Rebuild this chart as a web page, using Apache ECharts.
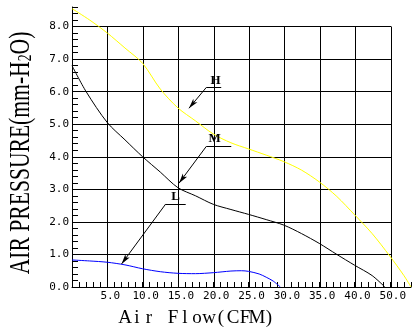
<!DOCTYPE html>
<html>
<head>
<meta charset="utf-8">
<script src="https://cdn.jsdelivr.net/npm/echarts/dist/echarts.min.js"></script>
<style>
  html, body { margin: 0; padding: 0; background: #fff; }
  #chart { width: 414px; height: 332px; }
</style>
</head>
<body>
<div id="chart"></div>
<script>
// Fan performance curves: static pressure vs. air flow at three speeds.
const flowH = [0, 2.5, 5, 7.5, 10, 12.5, 15, 17.5, 20, 22.5, 25, 27.5, 30, 32.5, 35, 37.5, 40, 42.5, 45, 47, 48];
const pressureH = [8.55, 8.2, 7.8, 7.34, 6.87, 6.08, 5.5, 5.1, 4.7, 4.43, 4.24, 4.05, 3.85, 3.59, 3.23, 2.78, 2.22, 1.64, 0.95, 0.35, 0];

const flowM = [0, 2, 5, 7.5, 10, 12.5, 15, 17.5, 20, 22.5, 25, 27.5, 30, 32.5, 35, 37.5, 40, 42.5, 44.3];
const pressureM = [6.8, 6.0, 5.05, 4.52, 4.0, 3.53, 3.05, 2.8, 2.54, 2.38, 2.23, 2.07, 1.9, 1.64, 1.34, 1.0, 0.67, 0.35, 0];

const flowL = [0, 2.5, 5, 7.5, 10, 12.5, 15, 17.5, 20, 22.5, 24, 25, 26.5, 27.5, 28.5, 29.5];
const pressureL = [0.83, 0.8, 0.76, 0.68, 0.56, 0.47, 0.42, 0.41, 0.44, 0.49, 0.5, 0.48, 0.4, 0.3, 0.18, 0];

const xTickValues = [5, 10, 15, 20, 25, 30, 35, 40, 45];
const xTickLabels = ['5.0', '10.0', '15.0', '20.0', '25.0', '30.0', '35.0', '40.0', '50.0'];
const yTickLabels = ['0.0', '1.0', '2.0', '3.0', '4.0', '5.0', '6.0', '7.0', '8.0'];

const curveNames = ['H', 'M', 'L'];
const curveColors = ['#ffff00', '#000000', '#0000ff'];

const xTitle = 'Air Flow(CFM)';

// Callouts in data coordinates: arrow tip, elbow, underline end, letter
const callouts = {
  H: { tip: [16.56, 5.49], elbow: [19.02, 6.13], end: [21.13, 6.13], text: [20.33, 6.33] },
  M: { tip: [15.15, 3.19], elbow: [19.02, 4.32], end: [22.55, 4.32], text: [20.19, 4.55] },
  L: { tip: [7.02, 0.71], elbow: [13.27, 2.55], end: [16.1, 2.55], text: [14.68, 2.77] }
};

function pairs(xs, ys) { return xs.map((x, i) => [x, ys[i]]); }
const curveData = [pairs(flowH, pressureH), pairs(flowM, pressureM), pairs(flowL, pressureL)];

const monoFont = 'DejaVu Sans Mono';

// Fixed-pitch serif lettering: each glyph gets its own equal-width cell
const xTitleRich = xTitle.split('').map(ch => '{c|' + ch + '}').join('');

const series = curveNames.map((name, i) => {
  const c = callouts[name];
  return {
    name: name,
    type: 'line',
    xAxisIndex: 0,
    yAxisIndex: 0,
    data: curveData[i],
    showSymbol: false,
    smooth: 0.3,
    lineStyle: { color: curveColors[i], width: 1 },
    z: 3,
    markLine: {
      silent: true,
      animation: false,
      label: { show: false },
      lineStyle: { color: '#000', width: 1, type: 'solid' },
      data: [
        [ { coord: c.elbow, symbol: 'none' }, { coord: c.tip, symbol: 'arrow', symbolSize: [4, 10] } ],
        [ { coord: c.elbow, symbol: 'none' }, { coord: c.end, symbol: 'none' } ]
      ]
    },
    markPoint: {
      silent: true,
      animation: false,
      symbol: 'rect',
      symbolSize: 1,
      itemStyle: { color: 'rgba(0,0,0,0)' },
      label: {
        show: true,
        position: 'inside',
        color: '#000',
        fontFamily: 'Liberation Serif',
        fontWeight: 'bold',
        fontSize: 13,
        formatter: name
      },
      data: [ { coord: c.text, value: name } ]
    }
  };
});

const chart = echarts.init(document.getElementById('chart'));
chart.setOption({
  animation: false,
  backgroundColor: '#fff',
  grid: [
    { left: 72, right: 2, top: 7, bottom: 45 },
    { left: 72, right: 23, top: 26.5, bottom: 45 }
  ],
  xAxis: [
    {
      type: 'value', gridIndex: 0, min: 0, max: 48, interval: 1,
      axisLine: { show: true, lineStyle: { color: '#000', width: 1 } },
      axisTick: { show: true, inside: true, length: 5, lineStyle: { color: '#000', width: 1 } },
      splitLine: { show: false },
      axisLabel: {
        show: true, margin: 4, color: '#000', fontFamily: monoFont, fontSize: 11,
        padding: [0, 0, 0, 6],
        formatter: function (v) {
          const i = xTickValues.indexOf(Math.round(v));
          return (i >= 0 && Math.abs(v - Math.round(v)) < 1e-6) ? xTickLabels[i] : '';
        }
      }
    },
    {
      type: 'value', gridIndex: 1, min: 0, max: 45, interval: 5,
      axisLine: { show: false }, axisTick: { show: false }, axisLabel: { show: false },
      splitLine: { show: true, showMinLine: true, showMaxLine: true, lineStyle: { color: '#000', width: 1 } }
    }
  ],
  yAxis: [
    {
      type: 'value', gridIndex: 0, min: 0, max: 8.6, interval: 0.2,
      axisLine: { show: true, lineStyle: { color: '#000', width: 1 } },
      axisTick: { show: true, inside: true, length: 6, lineStyle: { color: '#000', width: 1 } },
      splitLine: { show: false },
      axisLabel: {
        show: true, margin: 3, color: '#000', fontFamily: monoFont, fontSize: 11,
        padding: [0, 0, 4, 0],
        formatter: function (v) {
          const r = Math.round(v);
          return (Math.abs(v - r) < 1e-6 && r >= 0 && r < yTickLabels.length) ? yTickLabels[r] : '';
        }
      }
    },
    {
      type: 'value', gridIndex: 1, min: 0, max: 8, interval: 1,
      axisLine: { show: false }, axisTick: { show: false }, axisLabel: { show: false },
      splitLine: { show: true, showMinLine: true, showMaxLine: true, lineStyle: { color: '#000', width: 1 } }
    }
  ],
  graphic: [
    {
      type: 'text', x: 21, y: 153, rotation: Math.PI / 2, scaleX: 0.72,
      style: {
        text: 'AIR PRESSURE(mm-H{s|2}O)',
        fill: '#000',
        font: '30px "Liberation Serif"',
        align: 'center',
        verticalAlign: 'middle',
        rich: { s: { fontSize: 19, fontFamily: 'Liberation Serif', fill: '#000', padding: [10, 0, 0, 0] } }
      }
    },
    {
      type: 'text', x: 197, y: 318,
      style: {
        text: xTitleRich,
        fill: '#000',
        font: '19px "Liberation Serif"',
        align: 'center',
        verticalAlign: 'middle',
        rich: { c: { width: 12, align: 'center', fontSize: 19, fontFamily: 'Liberation Serif', fill: '#000' } }
      }
    }
  ],
  series: series
});
</script>
</body>
</html>
